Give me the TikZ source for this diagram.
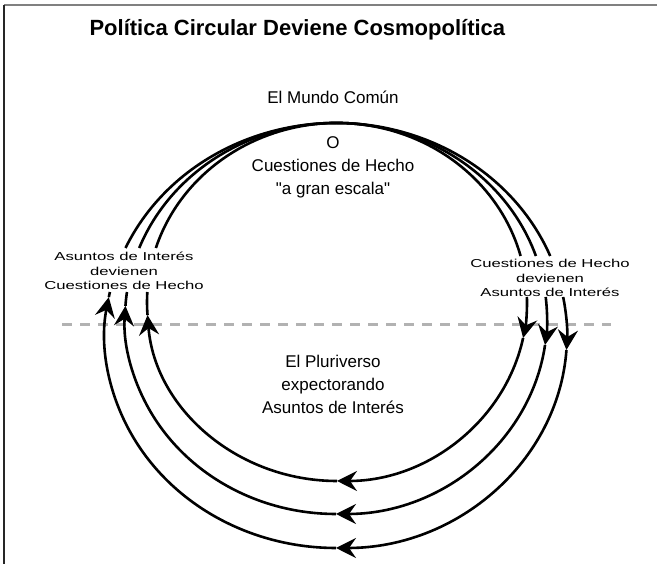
\documentclass[tikz,border=0pt]{standalone}
\usepackage{fontspec}
\setmainfont{Liberation Sans}[Ligatures=TeXOff]
\newfontfamily\widefont[FakeStretch=1.45,Ligatures=TeXOff]{Liberation Sans}
\usetikzlibrary{arrows.meta}

\tikzset{
  loop line/.style={line width=2.6pt},
  loop arc/.style={loop line, -{Stealth[length=20pt,width=20pt,inset=7pt]}},
  main text/.style={align=center, font=\fontsize{17}{23}\selectfont},
  side text/.style={align=center, inner sep=1pt, font=\widefont\fontsize{11.5}{14.5}\selectfont},
}

\begin{document}
\begin{tikzpicture}[x=1pt,y=1pt]
  \useasboundingbox (0,0) rectangle (657,564);
  \draw[line width=2pt, gray] (4,559) -- (657,559);
  \draw[line width=2pt, black!85] (4,559) -- (4,0);
  \node[anchor=west, font=\bfseries\fontsize{22}{26}\selectfont] (title) at (86,534) {Política Circular Deviene Cosmopolítica};
  \draw[line width=3pt, black!30, dash pattern=on 10pt off 8pt] (62,239) -- (611,239);
  \foreach \cx/\cy/\rx/\ry/\al/\ar in {337/262/190/179/184.2/-11.6, 336/245.5/211/195.5/176.3/-7.8, 336/228.5/231/212.5/169.6/-3.9} {
    \pgfmathsetmacro\angLT{180-asin((316-\cy)/\ry)}
    \pgfmathsetmacro\angLB{180-asin((272-\cy)/\ry)}
    \pgfmathsetmacro\angRT{asin((308-\cy)/\ry)}
    \pgfmathsetmacro\angRB{asin((267-\cy)/\ry)}
    \draw[loop line] (\cx,\cy) ++(\angLT:\rx pt and \ry pt) arc[start angle=\angLT, end angle=\angRT, x radius=\rx pt, y radius=\ry pt];
    \draw[loop arc] (\cx,\cy) ++(\angRB:\rx pt and \ry pt) arc[start angle=\angRB, end angle=\ar, x radius=\rx pt, y radius=\ry pt];
    \draw[loop arc] (\cx,\cy) ++(\ar:\rx pt and \ry pt) arc[start angle=\ar, end angle=-90, x radius=\rx pt, y radius=\ry pt];
    \draw[loop arc] (\cx,\cy) ++(-90:\rx pt and \ry pt) arc[start angle=-90, end angle=\al-360, x radius=\rx pt, y radius=\ry pt];
    \draw[loop line] (\cx,\cy) ++(\al:\rx pt and \ry pt) arc[start angle=\al, end angle=\angLB, x radius=\rx pt, y radius=\ry pt];
  }
  \node[main text] (world) at (333,467) {El Mundo Común};
  \node[main text] (facts) at (333,397) {O\\Cuestiones de Hecho\\"a gran escala"};
  \node[main text] (pluri) at (333,180) {El Pluriverso\\expectorando\\Asuntos de Interés};
  \node[side text] (leftlab) at (124,293) {Asuntos de Interés\\devienen\\Cuestiones de Hecho};
  \node[side text] (rightlab) at (550,286) {Cuestiones de Hecho\\devienen\\Asuntos de Interés};
\end{tikzpicture}
\end{document}
